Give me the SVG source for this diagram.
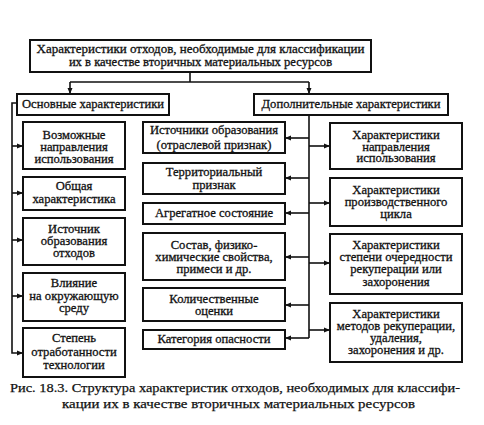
<svg xmlns="http://www.w3.org/2000/svg" width="484" height="425" viewBox="0 0 484 425">
<defs>
<style>
.b{fill:#fff;stroke:#111;stroke-width:2}
.t{font-family:"Liberation Serif","Times New Roman",serif;font-size:12.6px;fill:#111;stroke:#111;stroke-width:0.3;text-anchor:middle}
.c{fill:none;stroke:#111;stroke-width:1.6}
.cap{font-family:"Liberation Serif","Times New Roman",serif;font-size:13.5px;fill:#111;stroke:#111;stroke-width:0.25;text-anchor:middle}
</style>
<marker id="a" markerUnits="userSpaceOnUse" markerWidth="7" markerHeight="6" refX="6" refY="3" orient="auto">
<path d="M0,0.5 L6,3 L0,5.5 Z" fill="#111"/>
</marker>
</defs>
<rect width="484" height="425" fill="#fff"/>

<g id="connectors">
<path class="c" d="M190,72 V82 M70,82 H309"/>
<path class="c" d="M70,82 V94" marker-end="url(#a)"/>
<path class="c" d="M309,82 V94" marker-end="url(#a)"/>
<path class="c" d="M17,103 H12 V353 H23" marker-end="url(#a)"/>
<path class="c" d="M12,146 H23" marker-end="url(#a)"/>
<path class="c" d="M12,193 H23" marker-end="url(#a)"/>
<path class="c" d="M12,240 H23" marker-end="url(#a)"/>
<path class="c" d="M12,296 H23" marker-end="url(#a)"/>
<path class="c" d="M309,115 V338"/>
<path class="c" d="M309,138 H285" marker-end="url(#a)"/>
<path class="c" d="M309,178 H285" marker-end="url(#a)"/>
<path class="c" d="M309,213 H285" marker-end="url(#a)"/>
<path class="c" d="M309,257 H285" marker-end="url(#a)"/>
<path class="c" d="M309,305 H285" marker-end="url(#a)"/>
<path class="c" d="M309,338 H285" marker-end="url(#a)"/>
<path class="c" d="M309,146 H330" marker-end="url(#a)"/>
<path class="c" d="M309,203 H330" marker-end="url(#a)"/>
<path class="c" d="M309,263 H330" marker-end="url(#a)"/>
<path class="c" d="M309,330 H330" marker-end="url(#a)"/>
</g>

<g id="root">
<rect class="b" x="30" y="40" width="341" height="32"/>
<text class="t"><tspan x="200.5" y="53" textLength="328" lengthAdjust="spacingAndGlyphs">Характеристики отходов, необходимые для классификации</tspan><tspan x="200.5" y="66">их в качестве вторичных материальных ресурсов</tspan></text>
</g>

<g id="main">
<rect class="b" x="17" y="94" width="152" height="21"/>
<text class="t" x="93" y="108">Основные характеристики</text>
</g>
<g id="extra">
<rect class="b" x="254" y="94" width="194" height="21"/>
<text class="t" x="351" y="108">Дополнительные характеристики</text>
</g>

<g id="l1">
<rect class="b" x="23" y="122" width="102" height="47"/>
<text class="t"><tspan x="74" y="139">Возможные</tspan><tspan x="74" y="151">направления</tspan><tspan x="74" y="163">использования</tspan></text>
</g>
<g id="l2">
<rect class="b" x="23" y="177" width="102" height="33"/>
<text class="t"><tspan x="74" y="190">Общая</tspan><tspan x="74" y="203">характеристика</tspan></text>
</g>
<g id="l3">
<rect class="b" x="23" y="218" width="102" height="47"/>
<text class="t"><tspan x="74" y="233">Источник</tspan><tspan x="74" y="245">образования</tspan><tspan x="74" y="257">отходов</tspan></text>
</g>
<g id="l4">
<rect class="b" x="23" y="273" width="102" height="48"/>
<text class="t"><tspan x="74" y="287">Влияние</tspan><tspan x="74" y="300">на окружающую</tspan><tspan x="74" y="312">среду</tspan></text>
</g>
<g id="l5">
<rect class="b" x="23" y="328" width="102" height="49"/>
<text class="t"><tspan x="74" y="342">Степень</tspan><tspan x="74" y="356">отработанности</tspan><tspan x="74" y="369">технологии</tspan></text>
</g>

<g id="m1">
<rect class="b" x="143" y="122" width="142" height="31"/>
<text class="t"><tspan x="214" y="134">Источники образования</tspan><tspan x="214" y="149">(отраслевой признак)</tspan></text>
</g>
<g id="m2">
<rect class="b" x="143" y="163" width="142" height="31"/>
<text class="t"><tspan x="214" y="176">Территориальный</tspan><tspan x="214" y="189">признак</tspan></text>
</g>
<g id="m3">
<rect class="b" x="143" y="203" width="142" height="21"/>
<text class="t" x="214" y="217">Агрегатное состояние</text>
</g>
<g id="m4">
<rect class="b" x="143" y="233" width="142" height="47"/>
<text class="t"><tspan x="214" y="249">Состав, физико-</tspan><tspan x="214" y="261">химические свойства,</tspan><tspan x="214" y="273">примеси и др.</tspan></text>
</g>
<g id="m5">
<rect class="b" x="143" y="288" width="142" height="33"/>
<text class="t"><tspan x="214" y="303">Количественные</tspan><tspan x="214" y="315">оценки</tspan></text>
</g>
<g id="m6">
<rect class="b" x="143" y="330" width="142" height="19"/>
<text class="t" x="214" y="343">Категория опасности</text>
</g>

<g id="r1">
<rect class="b" x="330" y="123" width="132" height="46"/>
<text class="t"><tspan x="396" y="139">Характеристики</tspan><tspan x="396" y="151">направления</tspan><tspan x="396" y="162">использования</tspan></text>
</g>
<g id="r2">
<rect class="b" x="330" y="178" width="132" height="48"/>
<text class="t"><tspan x="396" y="194">Характеристики</tspan><tspan x="396" y="206">производственного</tspan><tspan x="396" y="218">цикла</tspan></text>
</g>
<g id="r3">
<rect class="b" x="330" y="234" width="132" height="60"/>
<text class="t"><tspan x="396" y="249">Характеристики</tspan><tspan x="396" y="261">степени очередности</tspan><tspan x="396" y="273">рекуперации или</tspan><tspan x="396" y="286">захоронения</tspan></text>
</g>
<g id="r4">
<rect class="b" x="330" y="303" width="132" height="59"/>
<text class="t"><tspan x="396" y="318">Характеристики</tspan><tspan x="396" y="330">методов рекуперации,</tspan><tspan x="396" y="342">удаления,</tspan><tspan x="396" y="354">захоронения и др.</tspan></text>
</g>

<g id="caption">
<text class="cap" x="235" y="392" textLength="450" lengthAdjust="spacingAndGlyphs">Рис. 18.3. Структура характеристик отходов, необходимых для классифи-</text>
<text class="cap" x="238.5" y="408" textLength="353" lengthAdjust="spacingAndGlyphs">кации их в качестве вторичных материальных ресурсов</text>
</g>
</svg>
